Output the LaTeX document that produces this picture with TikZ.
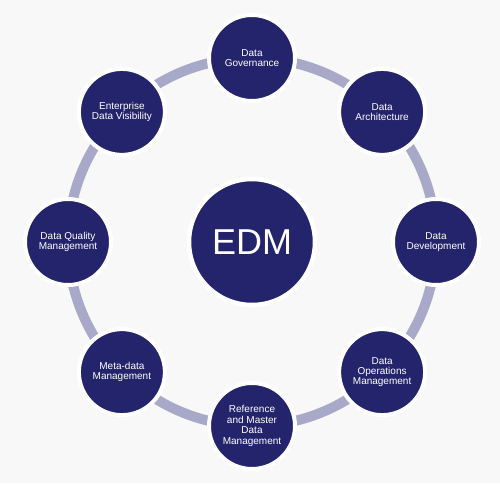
\documentclass[tikz,border=0pt]{standalone}
\usepackage{fontspec}
\setmainfont{Liberation Sans}
\usetikzlibrary{shadows}

\definecolor{navy}{RGB}{36,36,108}
\definecolor{ringgray}{RGB}{168,168,200}
\definecolor{backgray}{RGB}{248,248,248}

\begin{document}
\begin{tikzpicture}[x=1pt, y=1pt,
    area/.style={circle, fill=navy, draw=white, line width=4pt, minimum size=86pt, inner sep=0pt,
      align=center, text=white, font=\fontsize{10}{10.4}\selectfont,
      drop shadow={opacity=0.18, shadow xshift=0.8pt, shadow yshift=-1pt}},
    hub/.style={area, line width=4.5pt, minimum size=126pt, font=\fontsize{36}{36}\selectfont},
    ring/.style={draw=ringgray, line width=10pt}]
	\fill[backgray] (0, 0) rectangle (500, 483);
	\useasboundingbox (0, 0) rectangle (500, 483);

	\coordinate (c) at (252, 241);
	\draw[ring] (c) circle (184);

\begin{scope}[shift={(c)}]
	\node[hub] (edm) at (0, 0) {EDM};

	\node[area] (gov) at (90:184) {Data\\Governance};
	\node[area] (arch) at (45:184) {Data\\Architecture};
	\node[area] (dev) at (0:184) {Data\\Development};
	\node[area] (ops) at (-45:184) {Data\\Operations\\Management};
	\node[area] (ref) at (-90:184) {Reference\\and Master\\Data\\Management};
	\node[area] (meta) at (-135:184) {Meta-data\\Management};
	\node[area] (qual) at (180:184) {Data Quality\\Management};
	\node[area] (vis) at (135:184) {Enterprise\\Data Visibility};
\end{scope}
\end{tikzpicture}
\end{document}
